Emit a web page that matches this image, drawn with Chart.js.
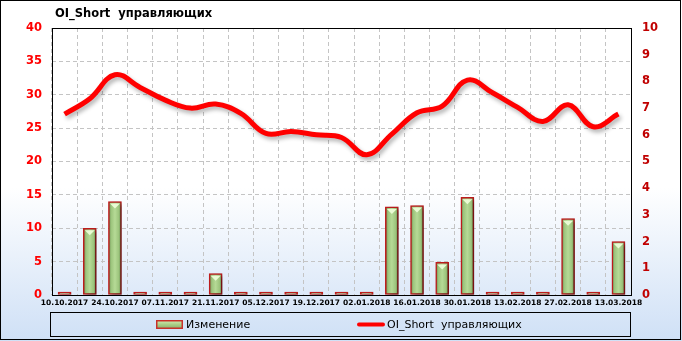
<!DOCTYPE html>
<html>
<head>
<meta charset="utf-8">
<script src="https://cdn.jsdelivr.net/npm/chart.js@4.4.1/dist/chart.umd.min.js"></script>
<style>
  html, body { margin: 0; padding: 0; background: #fff; }
  #wrap { position: relative; width: 682px; height: 341px; }
  canvas { display: block; }
</style>
</head>
<body>
<div id="wrap"><canvas id="c" width="682" height="341"></canvas></div>
<script>
const titleText = 'OI_Short  управляющих';
const categories = ['10.10.2017','17.10.2017','24.10.2017','31.10.2017','07.11.2017','14.11.2017','21.11.2017','28.11.2017','05.12.2017','12.12.2017','19.12.2017','26.12.2017','02.01.2018','09.01.2018','16.01.2018','23.01.2018','30.01.2018','06.02.2018','13.02.2018','20.02.2018','27.02.2018','06.03.2018','13.03.2018'];
const changeLabel = 'Изменение';
const changeValues = [0, 2.5, 3.5, 0, 0, 0, 0.8, 0, 0, 0, 0, 0, 0, 3.3, 3.35, 1.22, 3.66, 0, 0, 0, 2.86, 0, 2.0];
const oiLabel = 'OI_Short  управляющих';
const oiValues = [27.1, 29.4, 33.0, 31.1, 29.2, 28.0, 28.6, 27.2, 24.2, 24.5, 24.0, 23.6, 21.0, 24.1, 27.3, 28.3, 32.2, 30.3, 28.1, 26.0, 28.5, 25.2, 27.1];
const leftTicks = { min: 0, max: 40, step: 5 };
const rightTicks = { min: 0, max: 10, step: 1 };

const BAR_W = 13;

const bgPlugin = {
  id: 'bg',
  beforeDraw(chart) {
    const ctx = chart.ctx;
    const g = ctx.createLinearGradient(0, 0, 0, chart.height);
    g.addColorStop(0, '#ffffff');
    g.addColorStop(0.55, '#ffffff');
    g.addColorStop(1, '#cfe0f6');
    ctx.save();
    ctx.fillStyle = g;
    ctx.fillRect(0, 0, chart.width, chart.height);
    ctx.restore();
  },
  afterDatasetsDraw(chart) {
    const ctx = chart.ctx, a = chart.chartArea;
    ctx.save();
    ctx.strokeStyle = '#000';
    ctx.lineWidth = 1;
    ctx.strokeRect(Math.round(a.left) + 0.5, Math.round(a.top) + 0.5, Math.round(a.right - a.left), Math.round(a.bottom - a.top));
    ctx.restore();
  },
  afterDraw(chart) {
    const ctx = chart.ctx;
    ctx.save();
    ctx.strokeStyle = '#000';
    ctx.lineWidth = 1;
    ctx.strokeRect(0.5, 0.5, 680, 339);
    ctx.fillStyle = '#000';
    ctx.font = 'bold 11.5px "DejaVu Sans"';
    ctx.textBaseline = 'middle';
    ctx.textAlign = 'left';
    ctx.fillText(titleText, 55, 14);
    ctx.strokeRect(50.5, 312.5, 580, 24);
    const sg = ctx.createLinearGradient(0, 320, 0, 329);
    sg.addColorStop(0, '#d6efb8');
    sg.addColorStop(0.5, '#a9cf86');
    sg.addColorStop(1, '#86a96a');
    ctx.fillStyle = '#c8302a';
    ctx.fillRect(156, 320, 27, 9);
    ctx.fillStyle = sg;
    ctx.fillRect(157.5, 321.5, 24, 6);
    ctx.fillStyle = '#000';
    ctx.font = '11px "DejaVu Sans"';
    ctx.fillText(changeLabel, 186, 325);
    ctx.strokeStyle = '#ff0000';
    ctx.lineWidth = 4;
    ctx.lineCap = 'round';
    ctx.beginPath();
    ctx.moveTo(359, 324.5);
    ctx.lineTo(383, 324.5);
    ctx.stroke();
    ctx.fillText(oiLabel, 387, 325);
    ctx.restore();
  }
};

const shadowPlugin = {
  id: 'shadow',
  beforeDatasetDraw(chart, args) {
    const ctx = chart.ctx;
    ctx.save();
    if (args.meta.type === 'bar') {
      ctx.shadowColor = 'rgba(0,0,0,0.45)';
      ctx.shadowBlur = 4;
      ctx.shadowOffsetX = 3;
      ctx.shadowOffsetY = 2;
    } else {
      ctx.shadowColor = 'rgba(0,0,0,0.3)';
      ctx.shadowBlur = 4;
      ctx.shadowOffsetX = 2;
      ctx.shadowOffsetY = 3;
    }
  },
  afterDatasetDraw(chart, args) {
    const ctx = chart.ctx;
    ctx.restore();
    if (args.meta.type === 'bar') {
      ctx.save();
      ctx.fillStyle = 'rgba(240,255,220,0.9)';
      args.meta.data.forEach(el => {
        const h = el.base - el.y;
        if (h > 8) {
          ctx.beginPath();
          ctx.moveTo(el.x - 5, el.y + 2);
          ctx.lineTo(el.x + 5, el.y + 2);
          ctx.lineTo(el.x, el.y + 7);
          ctx.closePath();
          ctx.fill();
        }
      });
      ctx.restore();
    }
  }
};

function barFill(c) {
  const chart = c.chart;
  const xs = chart.scales.x;
  if (!xs) return '#a9cf86';
  const x = xs.getPixelForValue(c.dataIndex);
  if (!isFinite(x)) return '#a9cf86';
  const g = chart.ctx.createLinearGradient(x - BAR_W / 2, 0, x + BAR_W / 2, 0);
  g.addColorStop(0, '#5f7f48');
  g.addColorStop(0.2, '#9cc47c');
  g.addColorStop(0.5, '#b6da96');
  g.addColorStop(0.8, '#9cc47c');
  g.addColorStop(1, '#5f7f48');
  return g;
}

new Chart(document.getElementById('c'), {
  data: {
    labels: categories,
    datasets: [
      {
        type: 'line',
        label: oiLabel,
        data: oiValues,
        yAxisID: 'y',
        borderColor: '#ff0000',
        borderWidth: 5,
        pointRadius: 0,
        tension: 0.4,
        fill: false,
        order: 0
      },
      {
        type: 'bar',
        label: changeLabel,
        data: changeValues,
        yAxisID: 'y1',
        backgroundColor: barFill,
        borderColor: '#c01c1c',
        borderWidth: 1.5,
        borderSkipped: false,
        barThickness: BAR_W,
        minBarLength: 3,
        order: 1
      }
    ]
  },
  options: {
    responsive: false,
    animation: false,
    layout: { padding: { top: 28, left: 0, right: 0, bottom: 0 } },
    plugins: {
      legend: { display: false },
      title: { display: false },
      tooltip: { enabled: false }
    },
    scales: {
      x: {
        offset: true,
        grid: {
          offset: true,
          color: '#c4c4c4',
          drawTicks: false
        },
        border: { display: false, dash: [4, 3] },
        ticks: {
          autoSkip: false,
          maxRotation: 0,
          minRotation: 0,
          padding: 4,
          color: '#000',
          font: { family: '"DejaVu Sans"', size: 7.5, weight: 'bold' },
          callback: function (v, i) { return i % 2 === 0 ? categories[i] : ''; }
        },
        afterFit(s) { s.height = 46; }
      },
      y: {
        position: 'left',
        min: leftTicks.min,
        max: leftTicks.max,
        grid: { color: '#c4c4c4', drawTicks: false },
        border: { display: false, dash: [4, 3] },
        ticks: {
          stepSize: leftTicks.step,
          padding: 10,
          color: '#ff0000',
          font: { family: '"DejaVu Sans"', size: 11.5, weight: 'bold' }
        },
        afterFit(s) { s.width = 52; }
      },
      y1: {
        position: 'right',
        min: rightTicks.min,
        max: rightTicks.max,
        grid: { drawOnChartArea: false, drawTicks: false },
        border: { display: false },
        ticks: {
          stepSize: rightTicks.step,
          padding: 11,
          color: '#c00000',
          font: { family: '"DejaVu Sans"', size: 11.5, weight: 'bold' }
        },
        afterFit(s) { s.width = 51; }
      }
    }
  },
  plugins: [bgPlugin, shadowPlugin]
});
</script>
</body>
</html>
